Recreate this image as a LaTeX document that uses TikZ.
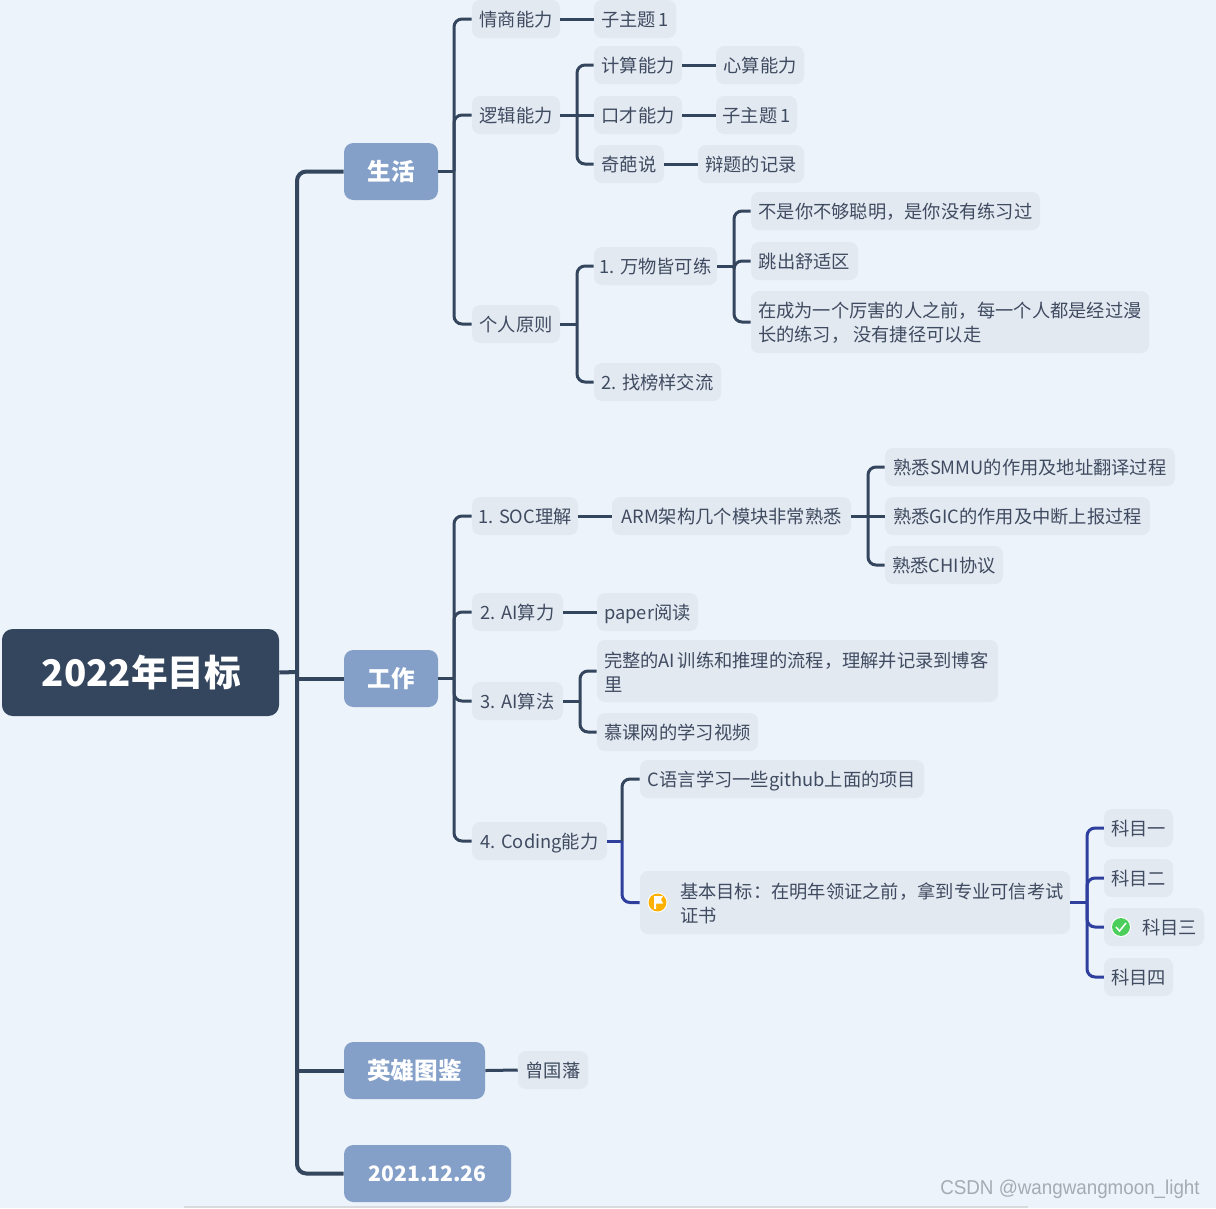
\documentclass[tikz,border=0pt]{standalone}
\usepackage{fontspec}
\setmainfont{Noto Sans CJK SC}
\newfontfamily\wmfont[FakeStretch=0.94]{Liberation Sans}
\definecolor{bgc}{HTML}{ECF3FA}
\definecolor{boxc}{HTML}{E3E9F1}
\definecolor{darkc}{HTML}{34455E}
\definecolor{midc}{HTML}{84A0C9}
\definecolor{txtc}{HTML}{3F4B60}
\definecolor{bluec}{HTML}{2F3F9E}
\definecolor{wmc}{HTML}{A6ABB1}
\definecolor{scrollc}{HTML}{D8DBDE}
\definecolor{flagc}{HTML}{FFB000}
\definecolor{okc}{HTML}{4BCF5A}
\newcommand{\lowtext}[1]{\raisebox{-0.75pt}[\height][\depth]{#1}}
\tikzset{
  x=0.75pt,y=-0.75pt,
  bw/.style={minimum width=#1*0.75pt},
  bh/.style={minimum height=#1*0.75pt},
  tb/.style={fill=boxc,rounded corners=6pt,inner sep=0pt,bh=38,text=txtc,text height=13.9pt,text depth=2pt,font=\fontsize{13.7pt}{18pt}\selectfont},
  multi/.style={text height=,text depth=,bh=#1},
  topicbox/.style={fill=midc,rounded corners=7pt,inner sep=0pt,bh=57,text=white,font=\fontsize{17.7pt}{20pt}\selectfont\bfseries},
  rootbox/.style={fill=darkc,rounded corners=8pt,inner sep=0pt,bw=277,bh=87,text=white,font=\fontsize{27.5pt}{32pt}\selectfont\bfseries},
  trunk/.style={draw=darkc,line width=3pt,rounded corners=7pt},
  conn/.style={draw=darkc,line width=2.25pt,rounded corners=6pt},
  bconn/.style={draw=bluec,line width=2.25pt,rounded corners=6pt},
}
\begin{document}
\begin{tikzpicture}
\fill[bgc] (0,0) rectangle (1216,1208);
\useasboundingbox (0,0) rectangle (1216,1208);
\fill[scrollc] (184,1205.5) rectangle (1028,1208);
% root and topics
\node[rootbox] (root) at (140.5,672.5) {\hspace*{1.5pt}2022年目标};
\node[topicbox,bw=94] (life) at (391,171.5) {生活};
\node[topicbox,bw=94] (work) at (391,678.5) {工作};
\node[topicbox,bw=141] (hero) at (414.5,1070.5) {英雄图鉴};
\node[topicbox,bw=167,font=\fontsize{15.9pt}{20pt}\selectfont\bfseries] (date) at (427.5,1173.5) {2021.12.26};
% life
\node[tb,bw=88] (qs) at (516,19) {情商能力};
\node[tb,bw=82] (za) at (635,19) {子主题\,1};
\node[tb,bw=88] (lj) at (516,115) {逻辑能力};
\node[tb,bw=88] (js) at (638,65) {计算能力};
\node[tb,bw=88] (xs) at (760,65) {心算能力};
\node[tb,bw=88] (kc) at (638,115) {口才能力};
\node[tb,bw=81] (zb) at (756.5,115) {子主题\,1};
\node[tb,bw=70] (qp) at (629,164) {奇葩说};
\node[tb,bw=106] (bt) at (751,164) {辩题的记录};
\node[tb,bw=88] (gr) at (516,324) {个人原则};
\node[tb,bw=123] (ww) at (655.5,266) {1. 万物皆可练};
\node[tb,bw=289] (bs) at (895.5,211) {不是你不够聪明，是你没有练习过};
\node[tb,bw=107] (tc) at (804.5,261) {跳出舒适区};
\node[tb,bw=398,multi=62] (zc) at (950,322) {\lowtext{\parbox{288pt}{在成为一个厉害的人之前，每一个人都是经过漫\\长的练习， 没有捷径可以走}}};
\node[tb,bw=127] (zb2) at (657.5,382) {2. 找榜样交流};
% work
\node[tb,bw=106] (soc) at (525,516) {1. SOC理解};
\node[tb,bw=239] (arm) at (731.5,516) {ARM架构几个模块非常熟悉};
\node[tb,bw=290] (smmu) at (1030,467) {熟悉SMMU的作用及地址翻译过程};
\node[tb,bw=265] (gic) at (1017.5,516) {熟悉GIC的作用及中断上报过程};
\node[tb,bw=118] (chi) at (944,565) {熟悉CHI协议};
\node[tb,bw=91] (ail) at (517.5,612) {2. AI算力};
\node[tb,bw=101] (pap) at (647.5,612) {paper阅读};
\node[tb,bw=91] (aif) at (517.5,701) {3. AI算法};
\node[tb,bw=401,multi=62] (wz) at (797.5,671) {\lowtext{\parbox{290.25pt}{完整的AI\hspace{2pt}训练和推理的流程，理解并记录到博客\\里}}};
\node[tb,bw=161] (mk) at (677.5,732) {慕课网的学习视频};
\node[tb,bw=135] (cod) at (539.5,841) {4. Coding能力};
\node[tb,bw=284] (cyy) at (782,779) {C语言学习一些github上面的项目};
\node[tb,bw=430,multi=63] (jb) at (855,902.5) {\hspace*{24pt}\lowtext{\parbox{286.5pt}{基本目标：在明年领证之前，拿到专业可信考试\\证书}}};
\node[tb,bw=69] (km1) at (1138.5,828) {科目一};
\node[tb,bw=69] (km2) at (1138.5,878) {科目二};
\node[tb,bw=100] (km3) at (1154,927) {\hspace*{23.25pt}科目三};
\node[tb,bw=69] (km4) at (1138.5,977) {科目四};
\node[tb,bw=70] (zgf) at (553,1070) {曾国藩};
% icons
\node[circle,fill=white,inner sep=0pt,minimum size=15pt] (iconflag) at (657.5,902.5) {};
\node[circle,fill=white,inner sep=0pt,minimum size=15pt] (iconok) at (1121,927) {};
\fill[flagc] (iconflag) circle (6.7pt);
\fill[white] (654,896) rectangle (656,909) (656,896) -- (663,896) -- (661,899.5) -- (663,903.5) -- (656,903.5) -- cycle;
\fill[okc] (iconok) circle (6.7pt);
\draw[white,line width=1.1pt] (1116,927) -- (1119.5,931) -- (1126,923);
% hubs
\coordinate (hroot) at (297,672);
\coordinate (hlife) at (454,171.5);
\coordinate (hlj) at (577,115);
\coordinate (hgr) at (577,324);
\coordinate (hww) at (734,266);
\coordinate (hwork) at (454,678.5);
\coordinate (harm) at (868,516);
\coordinate (haif) at (580,701);
\coordinate (hcod) at (622,841);
\coordinate (hjb) at (1087,902.5);
% trunk
\draw[trunk] (root.east) -- (hroot);
\draw[trunk] (hroot) |- (life.west);
\draw[trunk] (hroot) |- (date.west);
\draw[trunk] (hroot |- work.west) -- (work.west);
\draw[trunk] (hroot |- hero.west) -- (hero.west);
% life
\draw[conn] (life.east) -- (hlife);
\draw[conn] (hlife) |- (qs.west);
\draw[conn] (hlife) |- (lj.west);
\draw[conn] (hlife) |- (gr.west);
\draw[conn] (qs.east) -- (za.west);
\draw[conn] (lj.east) -- (hlj);
\draw[conn] (hlj) |- (js.west);
\draw[conn] (hlj) -- (kc.west);
\draw[conn] (hlj) |- (qp.west);
\draw[conn] (js.east) -- (xs.west);
\draw[conn] (kc.east) -- (zb.west);
\draw[conn] (qp.east) -- (bt.west);
\draw[conn] (gr.east) -- (hgr);
\draw[conn] (hgr) |- (ww.west);
\draw[conn] (hgr) |- (zb2.west);
\draw[conn] (ww.east) -- (hww);
\draw[conn] (hww) |- (bs.west);
\draw[conn] (hww) |- (tc.west);
\draw[conn] (hww) |- (zc.west);
% work
\draw[conn] (work.east) -- (hwork);
\draw[conn] (hwork) |- (soc.west);
\draw[conn] (hwork) |- (ail.west);
\draw[conn] (hwork) |- (aif.west);
\draw[conn] (hwork) |- (cod.west);
\draw[conn] (soc.east) -- (arm.west);
\draw[conn] (arm.east) -- (harm);
\draw[conn] (harm) |- (smmu.west);
\draw[conn] (harm) -- (gic.west);
\draw[conn] (harm) |- (chi.west);
\draw[conn] (ail.east) -- (pap.west);
\draw[conn] (aif.east) -- (haif);
\draw[conn] (haif) |- (wz.west);
\draw[conn] (haif) |- (mk.west);
\draw[bconn] (cod.east) -- (hcod);
\draw[conn] (hcod) |- (cyy.west);
\draw[bconn] (hcod) |- (jb.west);
\draw[bconn] (jb.east) -- (hjb);
\draw[bconn] (hjb) |- (km1.west);
\draw[bconn] (hjb) |- (km2.west);
\draw[bconn] (hjb) |- (km3.west);
\draw[bconn] (hjb) |- (km4.west);
\draw[conn] (hero.east) -- (zgf.west);
% watermark
\node[anchor=east,inner sep=0pt,text=wmc,font=\wmfont\fontsize{15pt}{18pt}\selectfont] (wm) at (1200,1189) {CSDN @wangwangmoon\_light};
\end{tikzpicture}
\end{document}
